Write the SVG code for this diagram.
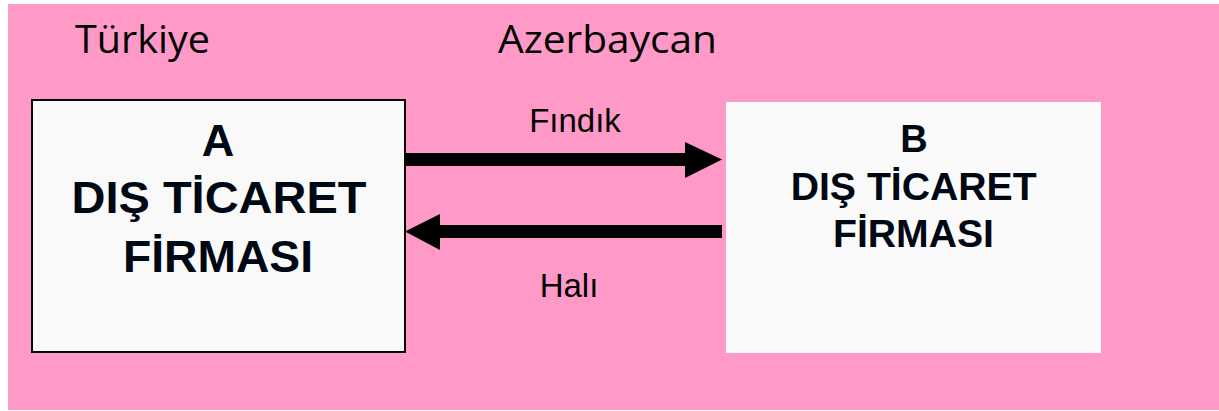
<svg xmlns="http://www.w3.org/2000/svg" width="1219" height="411" viewBox="0 0 1219 411">
<style>
.title{font-family:"Open Sans","Noto Sans","Liberation Sans",sans-serif;font-size:39px;fill:#000000}
.lbl{font-family:"Liberation Sans",Arial,sans-serif;font-size:33px;fill:#000000;text-anchor:middle}
.bA{font-family:"Liberation Sans",Arial,sans-serif;font-weight:bold;font-size:45px;fill:#000814;text-anchor:middle}
.bB{font-family:"Liberation Sans",Arial,sans-serif;font-weight:bold;font-size:38px;fill:#000814;text-anchor:middle}
</style>
<rect width="1219" height="411" fill="#ffffff"/>
<rect x="8" y="4" width="1211" height="406" fill="#ff99c8"/>
<text class="title" x="75" y="52.5" textLength="135" lengthAdjust="spacingAndGlyphs">Türkiye</text>
<text class="title" x="498" y="52.5" textLength="219" lengthAdjust="spacingAndGlyphs">Azerbaycan</text>
<g id="nodeA">
<rect x="32" y="100" width="373" height="252" fill="#f9f9f9" stroke="#000000" stroke-width="2"/>
<text class="bA" x="218" y="155.5">A</text>
<text class="bA" x="219" y="213" textLength="295" lengthAdjust="spacingAndGlyphs">DIŞ TİCARET</text>
<text class="bA" x="218" y="272" textLength="190" lengthAdjust="spacingAndGlyphs">FİRMASI</text>
</g>
<g id="nodeB">
<rect x="726" y="102" width="375" height="251" fill="#fafafa"/>
<text class="bB" x="914" y="151.5">B</text>
<text class="bB" x="913.7" y="200" textLength="246" lengthAdjust="spacingAndGlyphs">DIŞ TİCARET</text>
<text class="bB" x="913.5" y="247" textLength="161" lengthAdjust="spacingAndGlyphs">FİRMASI</text>
</g>
<g id="connectors">
<rect x="405" y="153" width="282" height="13" fill="#000000"/>
<polygon points="685,142 722,159.5 685,178" fill="#000000"/>
<rect x="438" y="225" width="284" height="13" fill="#000000"/>
<polygon points="440,214 405,231.5 440,250" fill="#000000"/>
<text class="lbl" x="575" y="131.5">Fındık</text>
<text class="lbl" x="569" y="296.5">Halı</text>
</g>
</svg>
